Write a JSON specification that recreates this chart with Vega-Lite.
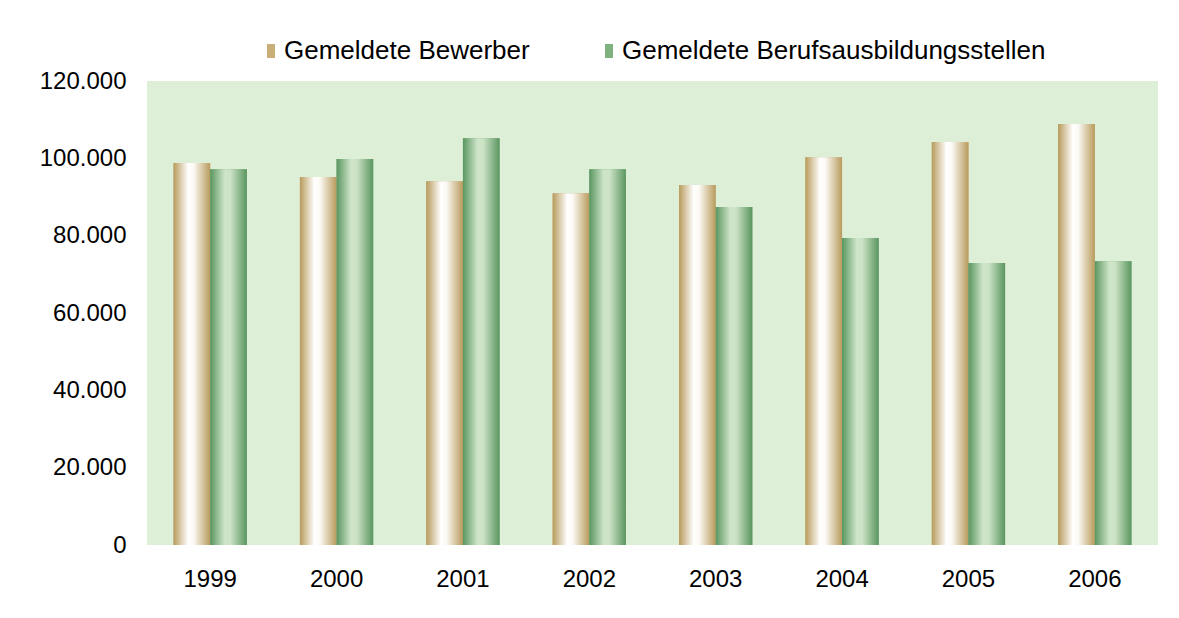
{
  "$schema": "https://vega.github.io/schema/vega-lite/v6.json",
  "autosize": "none",
  "width": 1011,
  "height": 464,
  "padding": {"left": 147, "top": 81, "right": 21, "bottom": 73},
  "background": "white",
  "config": {
    "font": "Liberation Sans",
    "view": {"fill": "#DEEFD8", "stroke": null},
    "locale": {"number": {"decimal": ",", "thousands": ".", "grouping": [3], "currency": ["", " €"]}}
  },
  "data": {
    "values": [
      {"year": "1999", "series": "Gemeldete Bewerber", "value": 98800},
      {"year": "1999", "series": "Gemeldete Berufsausbildungsstellen", "value": 97200},
      {"year": "2000", "series": "Gemeldete Bewerber", "value": 95200},
      {"year": "2000", "series": "Gemeldete Berufsausbildungsstellen", "value": 99800},
      {"year": "2001", "series": "Gemeldete Bewerber", "value": 94100},
      {"year": "2001", "series": "Gemeldete Berufsausbildungsstellen", "value": 105200},
      {"year": "2002", "series": "Gemeldete Bewerber", "value": 91000},
      {"year": "2002", "series": "Gemeldete Berufsausbildungsstellen", "value": 97200},
      {"year": "2003", "series": "Gemeldete Bewerber", "value": 93100},
      {"year": "2003", "series": "Gemeldete Berufsausbildungsstellen", "value": 87400},
      {"year": "2004", "series": "Gemeldete Bewerber", "value": 100300},
      {"year": "2004", "series": "Gemeldete Berufsausbildungsstellen", "value": 79400},
      {"year": "2005", "series": "Gemeldete Bewerber", "value": 104200},
      {"year": "2005", "series": "Gemeldete Berufsausbildungsstellen", "value": 72900},
      {"year": "2006", "series": "Gemeldete Bewerber", "value": 108900},
      {"year": "2006", "series": "Gemeldete Berufsausbildungsstellen", "value": 73400}
    ]
  },
  "encoding": {
    "x": {
      "field": "year", "type": "nominal", "title": null,
      "scale": {"paddingInner": 0.42, "paddingOuter": 0.21},
      "axis": {"labelAngle": 0, "labelFontSize": 24, "labelColor": "#000000", "labelPadding": 22, "domain": false, "ticks": false, "grid": false}
    },
    "xOffset": {
      "field": "series", "type": "nominal",
      "sort": ["Gemeldete Bewerber", "Gemeldete Berufsausbildungsstellen"],
      "scale": {"paddingInner": 0, "paddingOuter": 0}
    },
    "y": {
      "field": "value", "type": "quantitative", "title": null,
      "scale": {"domain": [0, 120000], "nice": false},
      "axis": {"values": [0, 20000, 40000, 60000, 80000, 100000, 120000], "format": ",d", "labelFontSize": 24, "labelColor": "#000000", "labelPadding": 21, "domain": false, "ticks": false, "grid": false}
    }
  },
  "layer": [
    {
      "mark": {"type": "bar"},
      "encoding": {
        "color": {
          "field": "series", "type": "nominal",
          "sort": ["Gemeldete Bewerber", "Gemeldete Berufsausbildungsstellen"],
          "scale": {
            "domain": ["Gemeldete Bewerber", "Gemeldete Berufsausbildungsstellen"],
            "range": ["#C9AE78", "#7FB27E"]
          },
          "legend": {
            "title": null,
            "orient": "none",
            "direction": "horizontal",
            "legendX": 111,
            "legendY": -43,
            "labelFontSize": 26,
            "labelLimit": 700,
            "labelColor": "#000000",
            "labelOffset": 0,
            "columnPadding": 66,
            "symbolType": "M-0.57,-1H0.57V1H-0.57Z",
            "symbolSize": 196,
            "symbolStrokeWidth": 0,
            "symbolOpacity": 1,
            "encode": {
              "symbols": {
                "update": {
                  "fill": {"value": {"expr": "datum.value === 'Gemeldete Bewerber' ? {gradient: 'linear', x1: 0, y1: 0, x2: 1, y2: 0, stops: [{offset: 0, color: '#B89B5C'}, {offset: 0.5, color: '#FFFFFF'}, {offset: 1, color: '#B89B5C'}]} : {gradient: 'linear', x1: 0, y1: 0, x2: 1, y2: 0, stops: [{offset: 0, color: '#5A9660'}, {offset: 0.5, color: '#CFE5C9'}, {offset: 1, color: '#5A9660'}]}"}}
                }
              }
            }
          }
        }
      }
    },
    {
      "mark": {"type": "bar"},
      "encoding": {
        "fill": {
          "condition": {
            "test": "datum.series === 'Gemeldete Bewerber'",
            "value": {"gradient": "linear", "x1": 0, "y1": 0, "x2": 1, "y2": 0, "stops": [
              {"offset": 0, "color": "#B89B5C"},
              {"offset": 0.4, "color": "#FFFFFF"},
              {"offset": 0.55, "color": "#FBF9F4"},
              {"offset": 1, "color": "#B89B5C"}
            ]}
          },
          "value": {"gradient": "linear", "x1": 0, "y1": 0, "x2": 1, "y2": 0, "stops": [
            {"offset": 0, "color": "#5A9660"},
            {"offset": 0.4, "color": "#CFE5C9"},
            {"offset": 0.55, "color": "#CDE3C6"},
            {"offset": 1, "color": "#5A9660"}
          ]}
        }
      }
    }
  ]
}
